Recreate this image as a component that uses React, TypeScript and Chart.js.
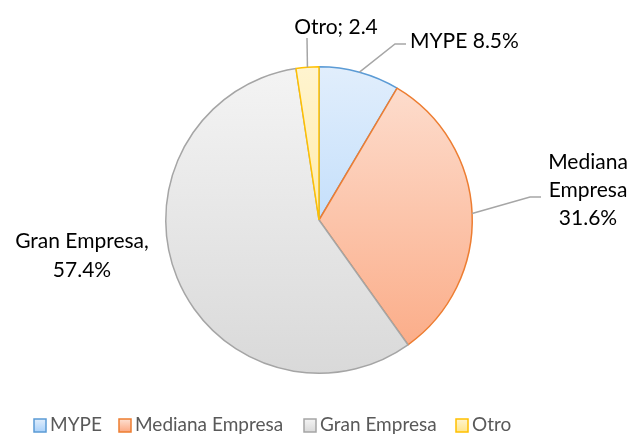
import React, { useEffect, useRef } from "react";
import { Chart, registerables } from "chart.js";

Chart.register(...registerables);

const categories = ["MYPE", "Mediana Empresa", "Gran Empresa", "Otro"];
const values = [8.5, 31.6, 57.4, 2.4];
const labelLines = [["MYPE 8.5%"], ["Mediana", "Empresa", "31.6%"], ["Gran Empresa,", "57.4%"], ["Otro; 2.4"]];

const borderColors = ["#5b9bd5", "#ed7d31", "#a5a5a5", "#ffc000"];
const gradTop = ["#e1eefc", "#fde0d2", "#f4f4f4", "#fff4cf"];
const gradBottom = ["#a9d1fa", "#fba882", "#d9d9d9", "#ffe58a"];

const FONT = "Lato, 'Open Sans', sans-serif";

export default function App() {
  const ref = useRef<HTMLCanvasElement>(null);
  useEffect(() => {
    const canvas = ref.current!;
    const labelPlugin = {
      id: "labels",
      afterDraw(chart: any) {
        const ctx = chart.ctx;
        const meta = chart.getDatasetMeta(0);
        ctx.save();
        ctx.font = `21px ${FONT}`;
        ctx.fillStyle = "#000";
        ctx.textBaseline = "middle";
        const leaders: any[] = [
          { i: 0, pts: [[395, 44], [406, 44]], text: { x: 410, y: 41, align: "left", lh: 28 } },
          { i: 1, pts: [[530, 197], [541, 197]], text: { x: 588, y: 162, align: "center", lh: 28 } },
          { i: 2, pts: null, text: { x: 82, y: 241, align: "center", lh: 29 } },
          { i: 3, pts: [[307, 38]], text: { x: 336, y: 27, align: "center", lh: 28 } },
        ];
        ctx.strokeStyle = "#a6a6a6";
        ctx.lineWidth = 1.5;
        for (const l of leaders) {
          const arc = meta.data[l.i];
          if (l.pts) {
            const mid = (arc.startAngle + arc.endAngle) / 2;
            const sx = arc.x + Math.cos(mid) * arc.outerRadius;
            const sy = arc.y + Math.sin(mid) * arc.outerRadius;
            ctx.beginPath();
            ctx.moveTo(sx, sy);
            for (const p of l.pts) ctx.lineTo(p[0], p[1]);
            ctx.stroke();
          }
          ctx.textAlign = l.text.align;
          labelLines[l.i].forEach((s, k) => ctx.fillText(s, l.text.x, l.text.y + k * l.text.lh));
        }
        // legend
        const boxX = [34, 119, 304, 456];
        const ly = 425;
        ctx.font = `20px ${FONT}`;
        ctx.textAlign = "left";
        categories.forEach((c, i) => {
          const g = ctx.createLinearGradient(0, ly - 6, 0, ly + 7);
          g.addColorStop(0, gradTop[i]);
          g.addColorStop(1, gradBottom[i]);
          ctx.fillStyle = g;
          ctx.fillRect(boxX[i], ly - 6, 12, 13);
          ctx.strokeStyle = borderColors[i];
          ctx.lineWidth = 1.5;
          ctx.strokeRect(boxX[i], ly - 6, 12, 13);
          ctx.fillStyle = "#595959";
          ctx.save();
          ctx.translate(boxX[i] + 16, ly);
          ctx.scale(0.95, 1);
          ctx.fillText(c, 0, 0);
          ctx.restore();
        });
        ctx.restore();
      },
    };
    const chart = new Chart(canvas, {
      type: "pie",
      data: {
        labels: categories,
        datasets: [
          {
            data: values,
            borderColor: borderColors,
            borderWidth: 1.5,
            backgroundColor: (c: any) => {
              const ch = c.chart;
              const area = ch.chartArea;
              if (!area) return gradTop[c.dataIndex];
              const g = ch.ctx.createLinearGradient(0, area.top, 0, area.bottom);
              g.addColorStop(0, gradTop[c.dataIndex]);
              g.addColorStop(1, gradBottom[c.dataIndex]);
              return g;
            },
          },
        ],
      },
      options: {
        animation: false,
        responsive: false,
        layout: { padding: { top: 66, bottom: 61, left: 165, right: 161 } },
        plugins: { legend: { display: false }, tooltip: { enabled: false } },
      },
      plugins: [labelPlugin],
    });
    return () => chart.destroy();
  }, []);
  return (
    <div style={{ position: "fixed", left: 0, top: 0, width: 634, height: 435, background: "#fff" }}>
      <canvas ref={ref} width={634} height={435} />
    </div>
  );
}
